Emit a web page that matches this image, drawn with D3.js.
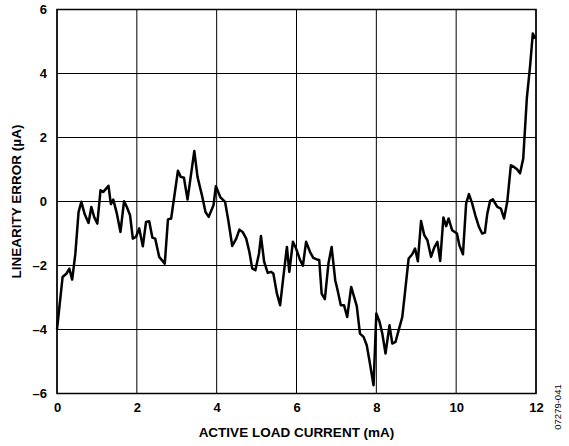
<!DOCTYPE html>
<html><head><meta charset="utf-8">
<script src="https://cdn.jsdelivr.net/npm/d3@7"></script>
<style>body{margin:0;background:#fff}svg{display:block}</style>
</head><body><svg id="c" width="569" height="446"></svg>
<script>
const currentMA = [0,0.14,0.24,0.31,0.38,0.46,0.54,0.61,0.69,0.79,0.86,0.93,1.01,1.09,1.16,1.29,1.35,1.41,1.50,1.59,1.68,1.75,1.83,1.90,1.98,2.06,2.15,2.23,2.31,2.39,2.46,2.56,2.70,2.78,2.86,3.03,3.10,3.18,3.27,3.44,3.52,3.63,3.72,3.80,3.92,3.98,4.09,4.21,4.29,4.39,4.49,4.57,4.65,4.74,4.82,4.89,4.97,5.06,5.11,5.19,5.28,5.36,5.42,5.51,5.59,5.67,5.76,5.82,5.91,5.99,6.09,6.16,6.24,6.34,6.42,6.51,6.57,6.63,6.71,6.80,6.88,6.97,7.02,7.11,7.19,7.27,7.37,7.51,7.59,7.68,7.76,7.84,7.93,8.00,8.08,8.15,8.23,8.33,8.40,8.48,8.56,8.65,8.71,8.81,8.90,8.97,9.04,9.12,9.20,9.28,9.37,9.45,9.53,9.60,9.68,9.75,9.81,9.90,10.02,10.08,10.17,10.25,10.32,10.40,10.48,10.57,10.65,10.72,10.78,10.85,10.92,11.03,11.12,11.20,11.28,11.37,11.45,11.53,11.60,11.68,11.77,11.85,11.92,11.98];
const errorUA = [-4.0,-2.36,-2.25,-2.1,-2.44,-1.63,-0.33,-0.01,-0.38,-0.67,-0.17,-0.48,-0.69,0.35,0.3,0.49,-0.08,0.06,-0.38,-0.95,0.01,-0.17,-0.43,-1.16,-1.1,-0.84,-1.4,-0.64,-0.62,-1.13,-1.16,-1.73,-1.94,-0.56,-0.53,0.96,0.77,0.74,0.06,1.58,0.77,0.2,-0.33,-0.48,-0.12,0.48,0.14,-0.01,-0.58,-1.39,-1.16,-0.88,-0.95,-1.16,-1.58,-2.09,-2.15,-1.63,-1.08,-1.89,-2.23,-2.2,-2.25,-2.88,-3.24,-2.36,-1.42,-2.2,-1.26,-1.47,-1.83,-2.01,-1.26,-1.58,-1.76,-1.81,-1.83,-2.88,-3.05,-1.94,-1.42,-2.46,-2.72,-3.24,-3.24,-3.61,-2.67,-3.27,-4.13,-4.23,-4.49,-5.06,-5.74,-3.5,-3.76,-4.13,-4.75,-3.87,-4.44,-4.39,-4.02,-3.61,-2.93,-1.78,-1.65,-1.47,-1.87,-0.61,-1.05,-1.21,-1.73,-1.44,-1.26,-1.86,-0.5,-0.77,-0.53,-0.9,-1.0,-1.37,-1.65,-0.06,0.23,-0.06,-0.43,-0.79,-1.0,-0.97,-0.38,0.02,0.07,-0.17,-0.22,-0.53,-0.01,1.13,1.08,1.0,0.88,1.34,3.22,4.21,5.25,5.09];
const xTicks = [0,2,4,6,8,10,12];
const yTicks = [-6,-4,-2,0,2,4,6];
const xTitle = "ACTIVE LOAD CURRENT (mA)";
const yTitle = "LINEARITY ERROR (µA)";
const figId = "07279-041";

const svg = d3.select("#c");
const L=57, R=536, T=9.5, B=393.5;
const x = d3.scaleLinear().domain([0,12]).range([L,R]);
const y = d3.scaleLinear().domain([-6,6]).range([B,T]);
const font = "'Liberation Sans', Arial, sans-serif";

const g = svg.append("g");
g.selectAll(".vx").data(xTicks).join("line")
  .attr("x1",d=>x(d)).attr("x2",d=>x(d)).attr("y1",T).attr("y2",B)
  .attr("stroke","#000").attr("stroke-width",1);
g.selectAll(".hy").data(yTicks).join("line")
  .attr("x1",L).attr("x2",R).attr("y1",d=>y(d)).attr("y2",d=>y(d))
  .attr("stroke","#000").attr("stroke-width",1);
svg.append("rect").attr("x",L).attr("y",T).attr("width",R-L).attr("height",B-T)
  .attr("fill","none").attr("stroke","#000").attr("stroke-width",1.5);

const fmt = d => d<0 ? "\u2013"+Math.abs(d) : String(d);
const xa = svg.append("g").attr("transform",`translate(0,${B})`)
  .call(d3.axisBottom(x).tickValues(xTicks).tickFormat(fmt).tickSize(0).tickPadding(9));
xa.select(".domain").remove();
xa.selectAll("text").attr("font-family",font).attr("font-weight","bold").attr("font-size",13).attr("fill","#000");
const ya = svg.append("g").attr("transform",`translate(${L},0)`)
  .call(d3.axisLeft(y).tickValues(yTicks).tickFormat(fmt).tickSize(0).tickPadding(10));
ya.select(".domain").remove();
ya.selectAll("text").attr("font-family",font).attr("font-weight","bold").attr("font-size",13).attr("fill","#000");

svg.append("text").attr("x",(L+R)/2).attr("y",437).attr("text-anchor","middle")
  .attr("font-family",font).attr("font-weight","bold").attr("font-size",13.5).text(xTitle);
svg.append("text").attr("transform",`translate(21,${(T+B)/2}) rotate(-90)`).attr("text-anchor","middle")
  .attr("font-family",font).attr("font-weight","bold").attr("font-size",13.5).text(yTitle);
svg.append("text").attr("transform",`translate(561,407) rotate(-90)`).attr("text-anchor","middle")
  .attr("font-family",font).attr("font-size",9.5).text(figId);

const line = d3.line().x((d,i)=>x(currentMA[i])).y(d=>y(d));
svg.append("path").datum(errorUA).attr("d",line).attr("fill","none")
  .attr("stroke","#000").attr("stroke-width",2.5).attr("stroke-linejoin","round");
</script></body></html>
